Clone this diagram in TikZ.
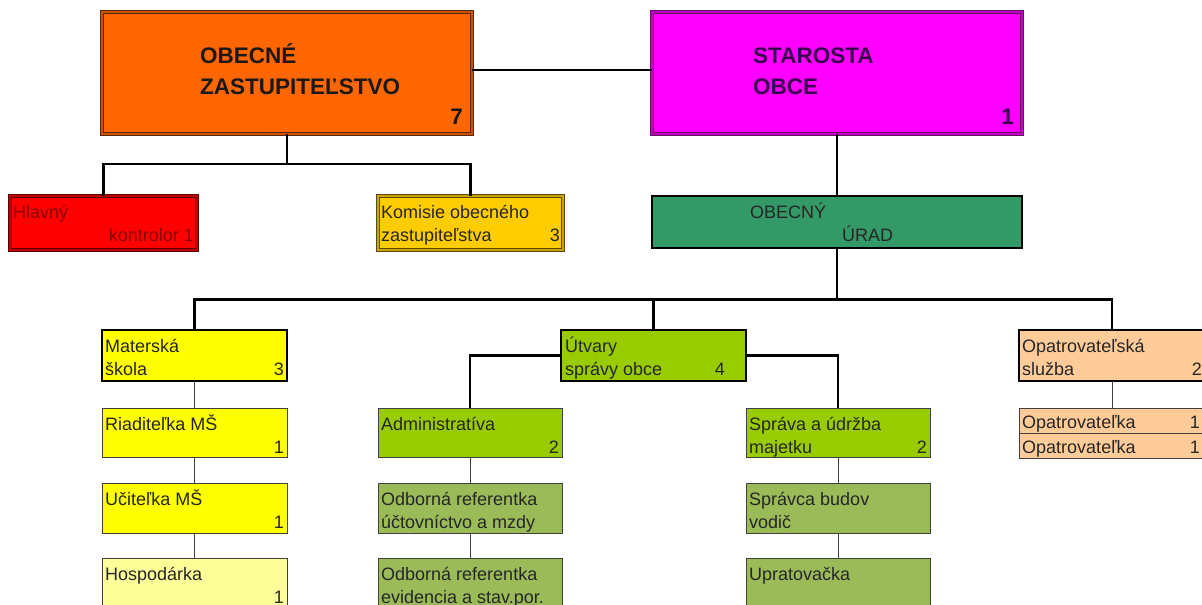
\documentclass[tikz,border=0pt]{standalone}
\usepackage{fontspec}
\setmainfont{Liberation Sans}
\definecolor{cOrange}{HTML}{FF6600}
\definecolor{cOrangeEdge}{HTML}{5A2A10}
\definecolor{cMagenta}{HTML}{FF00FF}
\definecolor{cMagentaEdge}{HTML}{6A0A6A}
\definecolor{cRed}{HTML}{FF0000}
\definecolor{cRedEdge}{HTML}{5A0000}
\definecolor{cGold}{HTML}{FFCC00}
\definecolor{cGoldEdge}{HTML}{5A4A10}
\definecolor{cUrad}{HTML}{339966}
\definecolor{cYellow}{HTML}{FFFF00}
\definecolor{cLtYellow}{HTML}{FFFF99}
\definecolor{cLime}{HTML}{99CC00}
\definecolor{cOlive}{HTML}{9BBB59}
\definecolor{cPeach}{HTML}{FFCC99}
\definecolor{cRedText}{HTML}{8A0000}
\definecolor{cPurpleText}{HTML}{3A0050}
\begin{document}
\begin{tikzpicture}[x=1pt,y=-1pt,
  box/.style={rectangle, anchor=north west, inner sep=0pt, outer sep=0pt},
  dbl/.style={box, line width=0.9pt, double distance=1.6pt},
  heavy/.style={box, draw=black, line width=2.4pt},
  small/.style={box, draw=black!75, line width=1pt},
  conn/.style={draw=black, line width=2.2pt},
  thin/.style={draw=black!75, line width=1pt},
  txt/.style={anchor=base west, inner sep=0pt, font=\fontsize{18}{20}\selectfont, text=black!85},
  num/.style={anchor=base east, inner sep=0pt, font=\fontsize{18}{20}\selectfont, text=black!85},
  bigtxt/.style={anchor=base west, inner sep=0pt, font=\bfseries\fontsize{22.5}{24}\selectfont, text=black!90},
  bignum/.style={anchor=base east, inner sep=0pt, font=\bfseries\fontsize{22.5}{24}\selectfont, text=black!90}
]
\useasboundingbox (0,0) rectangle (1202,605);
\fill[white] (0,0) rectangle (1202,605);
\clip (0,0) rectangle (1202,605);

% top level
\node[dbl, draw=cOrangeEdge, double=cOrange!80!black, fill=cOrange, minimum width=370pt, minimum height=122pt] (oz) at (102,12) {};
\node[dbl, draw=cMagentaEdge, double=cMagenta!75!black, fill=cMagenta, minimum width=370pt, minimum height=122pt] (so) at (652,12) {};
\node[bigtxt] (ozt1) at ([shift={(98,51)}]oz.north west) {OBECNÉ};
\node[bigtxt] (ozt2) at ([shift={(98,82)}]oz.north west) {ZASTUPITEĽSTVO};
\node[bignum] (ozn) at ([shift={(-9,-10)}]oz.south east) {7};
\node[bigtxt, text=cPurpleText] (sot1) at ([shift={(101,51)}]so.north west) {STAROSTA};
\node[bigtxt, text=cPurpleText] (sot2) at ([shift={(101,82)}]so.north west) {OBCE};
\node[bignum, text=cPurpleText] (son) at ([shift={(-8,-10)}]so.south east) {1};

% second level
\node[dbl, draw=cRedEdge, double=cRed!75!black, fill=cRed, minimum width=187pt, minimum height=54pt] (hk) at (10,196) {};
\node[txt, text=cRedText] (hkt1) at ([shift={(3,22)}]hk.north west) {Hlavný};
\node[num, text=cRedText] (hkt2) at ([shift={(-3,45)}]hk.north east) {kontrolor 1};

\node[dbl, draw=cGoldEdge, double=cGold!80!black, fill=cGold, minimum width=185pt, minimum height=54pt] (kom) at (378,196) {};
\node[txt] (komt1) at ([shift={(3,22)}]kom.north west) {Komisie obecného};
\node[txt] (komt2) at ([shift={(3,45)}]kom.north west) {zastupiteľstva};
\node[num] (komn) at ([shift={(-3,45)}]kom.north east) {3};

\node[box, draw=black, line width=2pt, fill=cUrad, minimum width=370pt, minimum height=52pt] (urad) at (652,196) {};
\node[txt] (uradt1) at ([shift={(98,22)}]urad.north west) {OBECNÝ};
\node[txt] (uradt2) at ([shift={(190,45)}]urad.north west) {ÚRAD};

% third level
\node[heavy, fill=cYellow, minimum width=185pt, minimum height=51pt] (ms) at (102,330) {};
\node[txt] (mst1) at ([shift={(3,22)}]ms.north west) {Materská};
\node[txt] (mst2) at ([shift={(3,45)}]ms.north west) {škola};
\node[num] (msn) at ([shift={(-3,45)}]ms.north east) {3};

\node[heavy, fill=cLime, minimum width=185pt, minimum height=51pt] (ut) at (561,330) {};
\node[txt] (utt1) at ([shift={(4,22)}]ut.north west) {Útvary};
\node[txt] (utt2) at ([shift={(4,45)}]ut.north west) {správy obce};
\node[num] (utn) at ([shift={(-21,45)}]ut.north east) {4};

\node[heavy, fill=cPeach, minimum width=186pt, minimum height=51pt] (os) at (1019,330) {};
\node[txt] (ost1) at ([shift={(3,22)}]os.north west) {Opatrovateľská};
\node[txt] (ost2) at ([shift={(3,45)}]os.north west) {služba};
\node[num] (osn) at ([shift={(-3,45)}]os.north east) {2};

% row A
\node[small, fill=cYellow, minimum width=185pt, minimum height=49pt] (ria) at (102,408) {};
\node[txt] (riat) at ([shift={(3,22)}]ria.north west) {Riaditeľka MŠ};
\node[num] (rian) at ([shift={(-3,45)}]ria.north east) {1};

\node[small, fill=cLime, minimum width=184pt, minimum height=49pt] (adm) at (378,408) {};
\node[txt] (admt) at ([shift={(3,22)}]adm.north west) {Administratíva};
\node[num] (admn) at ([shift={(-3,45)}]adm.north east) {2};

\node[small, fill=cLime, minimum width=184pt, minimum height=49pt] (spr) at (746,408) {};
\node[txt] (sprt1) at ([shift={(3,22)}]spr.north west) {Správa a údržba};
\node[txt] (sprt2) at ([shift={(3,45)}]spr.north west) {majetku};
\node[num] (sprn) at ([shift={(-3,45)}]spr.north east) {2};

\node[small, fill=cPeach, minimum width=186pt, minimum height=25pt] (op1) at (1019,408) {};
\node[txt] (op1t) at ([shift={(3,20)}]op1.north west) {Opatrovateľka};
\node[num] (op1n) at ([shift={(-5,20)}]op1.north east) {1};
\node[small, fill=cPeach, minimum width=186pt, minimum height=25pt] (op2) at (1019,433) {};
\node[txt] (op2t) at ([shift={(3,20)}]op2.north west) {Opatrovateľka};
\node[num] (op2n) at ([shift={(-5,20)}]op2.north east) {1};

% row B
\node[small, fill=cYellow, minimum width=185pt, minimum height=50pt] (uci) at (102,483) {};
\node[txt] (ucit) at ([shift={(3,22)}]uci.north west) {Učiteľka MŠ};
\node[num] (ucin) at ([shift={(-3,45)}]uci.north east) {1};

\node[small, fill=cOlive, minimum width=184pt, minimum height=50pt] (odb1) at (378,483) {};
\node[txt] (odb1t1) at ([shift={(3,22)}]odb1.north west) {Odborná referentka};
\node[txt] (odb1t2) at ([shift={(3,45)}]odb1.north west) {účtovníctvo a mzdy};

\node[small, fill=cOlive, minimum width=184pt, minimum height=50pt] (spc) at (746,483) {};
\node[txt] (spct1) at ([shift={(3,22)}]spc.north west) {Správca budov};
\node[txt] (spct2) at ([shift={(3,45)}]spc.north west) {vodič};

% row C
\node[small, fill=cLtYellow, minimum width=185pt, minimum height=52pt] (hos) at (102,558) {};
\node[txt] (host) at ([shift={(3,22)}]hos.north west) {Hospodárka};
\node[num] (hosn) at ([shift={(-3,45)}]hos.north east) {1};

\node[small, fill=cOlive, minimum width=184pt, minimum height=52pt] (odb2) at (378,558) {};
\node[txt] (odb2t1) at ([shift={(3,22)}]odb2.north west) {Odborná referentka};
\node[txt] (odb2t2) at ([shift={(3,45)}]odb2.north west) {evidencia a stav.por.};

\node[small, fill=cOlive, minimum width=184pt, minimum height=52pt] (upr) at (746,558) {};
\node[txt] (uprt) at ([shift={(3,22)}]upr.north west) {Upratovačka};

% connectors
\coordinate (f1) at (0,164);
\coordinate (f2) at (0,299.5);
\draw[conn] ([yshift=3pt]oz.east) -- ([yshift=3pt]so.west);
\draw[conn] (oz.south) -- (oz.south |- f1);
\draw[conn] (hk.north) |- (kom.north |- f1) -- (kom.north);
\draw[conn] (so.south) -- (urad.north);
\draw[draw=black, line width=1.3pt] (urad.south) -- (urad.south |- f2);
\draw[conn] (ms.north) |- (os.north |- f2) -- (os.north);
\draw[conn] (ut.north) -- (ut.north |- f2);
\draw[conn] (ut.west) -| (adm.north);
\draw[conn] (ut.east) -| (spr.north);
\draw[thin] (ms.south) -- (ria.north);
\draw[thin] (ria.south) -- (uci.north);
\draw[thin] (uci.south) -- (hos.north);
\draw[thin] (adm.south) -- (odb1.north);
\draw[thin] (odb1.south) -- (odb2.north);
\draw[thin] (spr.south) -- (spc.north);
\draw[thin] (spc.south) -- (upr.north);
\draw[thin] (os.south) -- (op1.north);
\end{tikzpicture}
\end{document}
